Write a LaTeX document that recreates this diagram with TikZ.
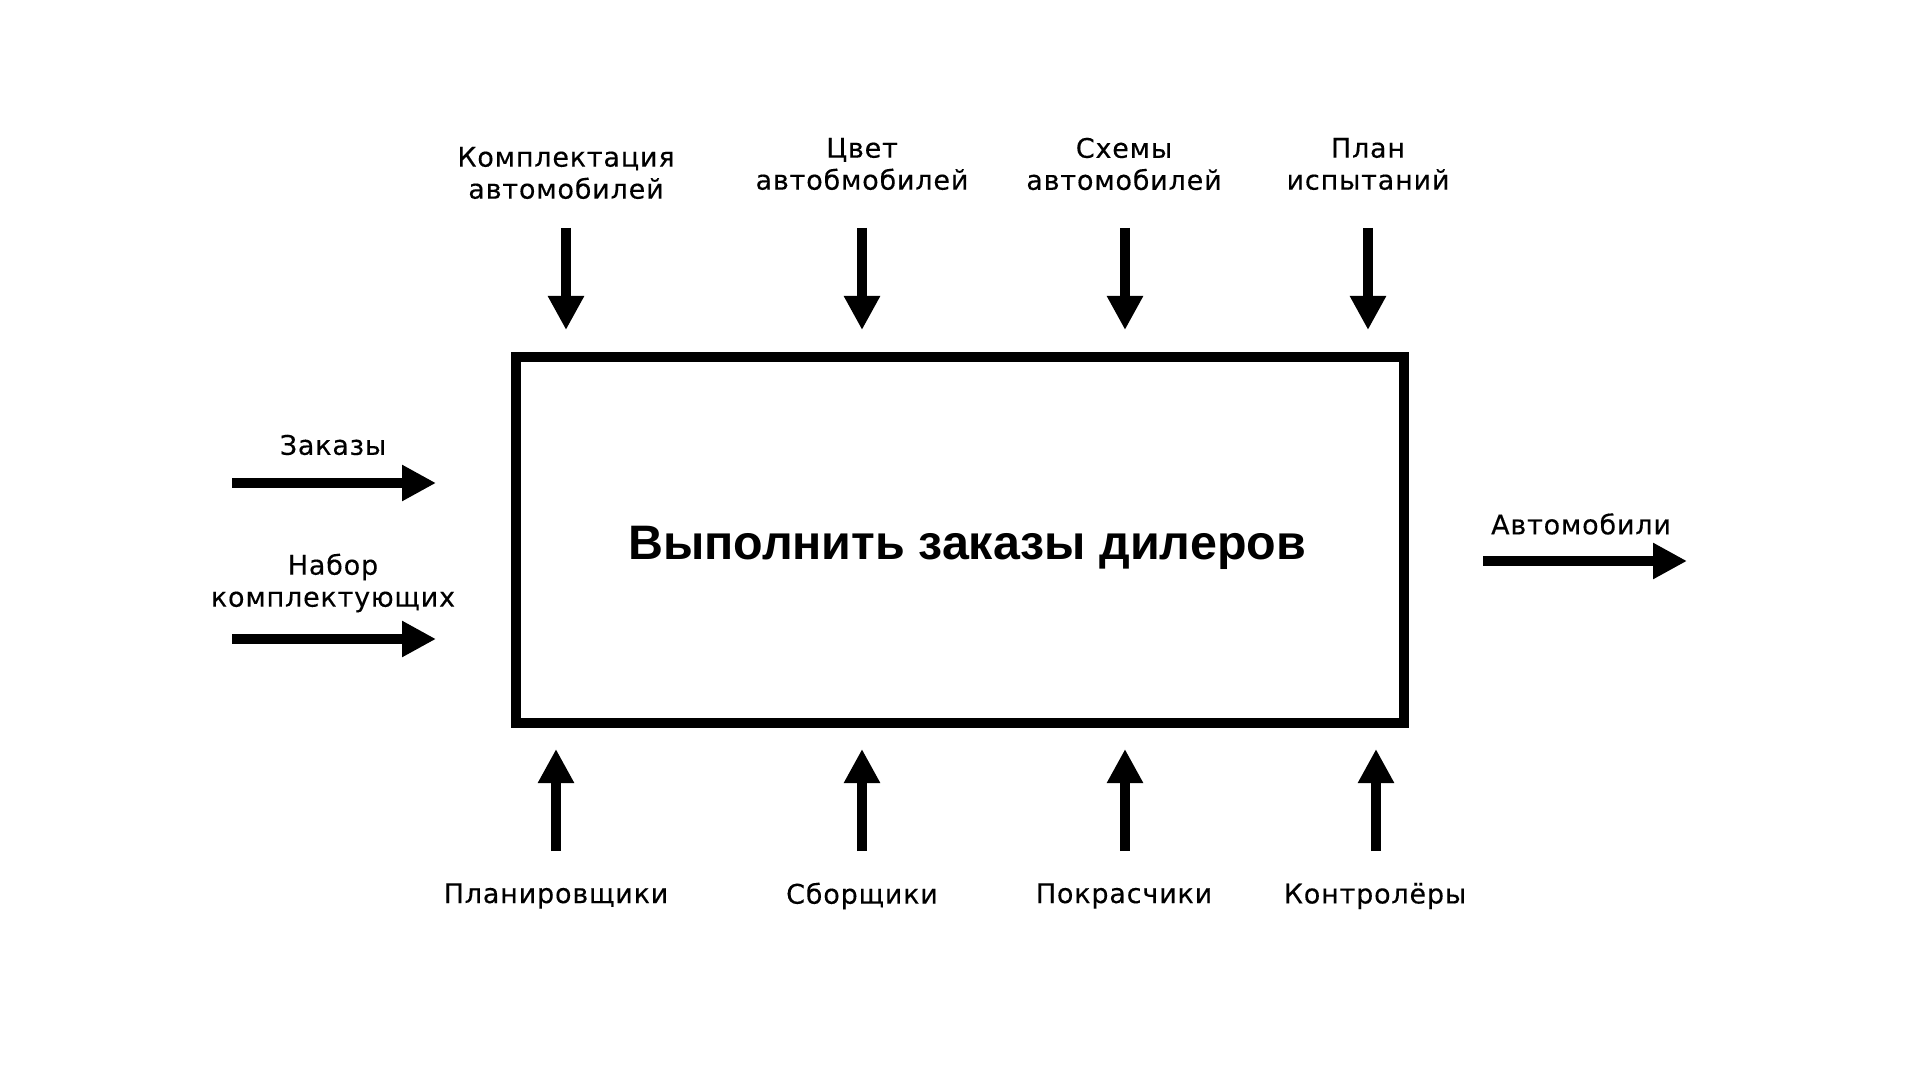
\documentclass[tikz,border=0pt]{standalone}
\usepackage{fontspec}
\setmainfont{DejaVu Sans}[LetterSpace=3,FakeBold=0.3]
\newfontfamily\titlefont{Liberation Sans}
\usetikzlibrary{arrows.meta}
\begin{document}
\begin{tikzpicture}[x=0.5pt,y=-0.5pt,
  lbl/.style={font=\fontsize{13.5}{16}\selectfont, align=center, inner sep=0pt},
  arr/.style={line width=5pt, -{Triangle[length=17pt,width=17pt]}},
  procbox/.style={draw, line width=5pt, minimum width=444pt, minimum height=183pt, inner sep=0pt},
  titletext/.style={font=\titlefont\bfseries\fontsize{24.2}{29}\selectfont, inner sep=0pt}]
\useasboundingbox[fill=white] (0,0) rectangle (1920,1080);

% process box
\node[procbox] (proc) at (960,540) {};
\node[titletext] (title) at (967,548) {Выполнить заказы дилеров};

% top labels (controls)
\node[lbl] (c1) at (566,173) {Комплектация\\автомобилей};
\node[lbl] (c2) at (862,164) {Цвет\\автобмобилей};
\node[lbl] (c3) at (1124,164) {Схемы\\автомобилей};
\node[lbl] (c4) at (1368,164) {План\\испытаний};

% left labels (inputs)
\node[lbl] (i1) at (333,445) {Заказы};
\node[lbl] (i2) at (333,583) {Набор\\комплектующих};

% right label (output)
\node[lbl] (o1) at (1581,524) {Автомобили};

% bottom labels (mechanisms)
\node[lbl] (m1) at (556,896) {Планировщики};
\node[lbl] (m2) at (862,896) {Сборщики};
\node[lbl] (m3) at (1124,896) {Покрасчики};
\node[lbl] (m4) at (1375,896) {Контролёры};

% arrow end points
\coordinate (c1s) at (566,228);  \coordinate (c1e) at (566,330);
\coordinate (c2s) at (862,228);  \coordinate (c2e) at (862,330);
\coordinate (c3s) at (1125,228); \coordinate (c3e) at (1125,330);
\coordinate (c4s) at (1368,228); \coordinate (c4e) at (1368,330);

\coordinate (i1s) at (232,483);  \coordinate (i1e) at (436,483);
\coordinate (i2s) at (232,639);  \coordinate (i2e) at (436,639);

\coordinate (o1s) at (1483,561); \coordinate (o1e) at (1687,561);

\coordinate (m1s) at (556,851);  \coordinate (m1e) at (556,749);
\coordinate (m2s) at (862,851);  \coordinate (m2e) at (862,749);
\coordinate (m3s) at (1125,851); \coordinate (m3e) at (1125,749);
\coordinate (m4s) at (1376,851); \coordinate (m4e) at (1376,749);

\foreach \a in {c1,c2,c3,c4,i1,i2,o1,m1,m2,m3,m4}
  \draw[arr] (\a s) -- (\a e);
\end{tikzpicture}
\end{document}
